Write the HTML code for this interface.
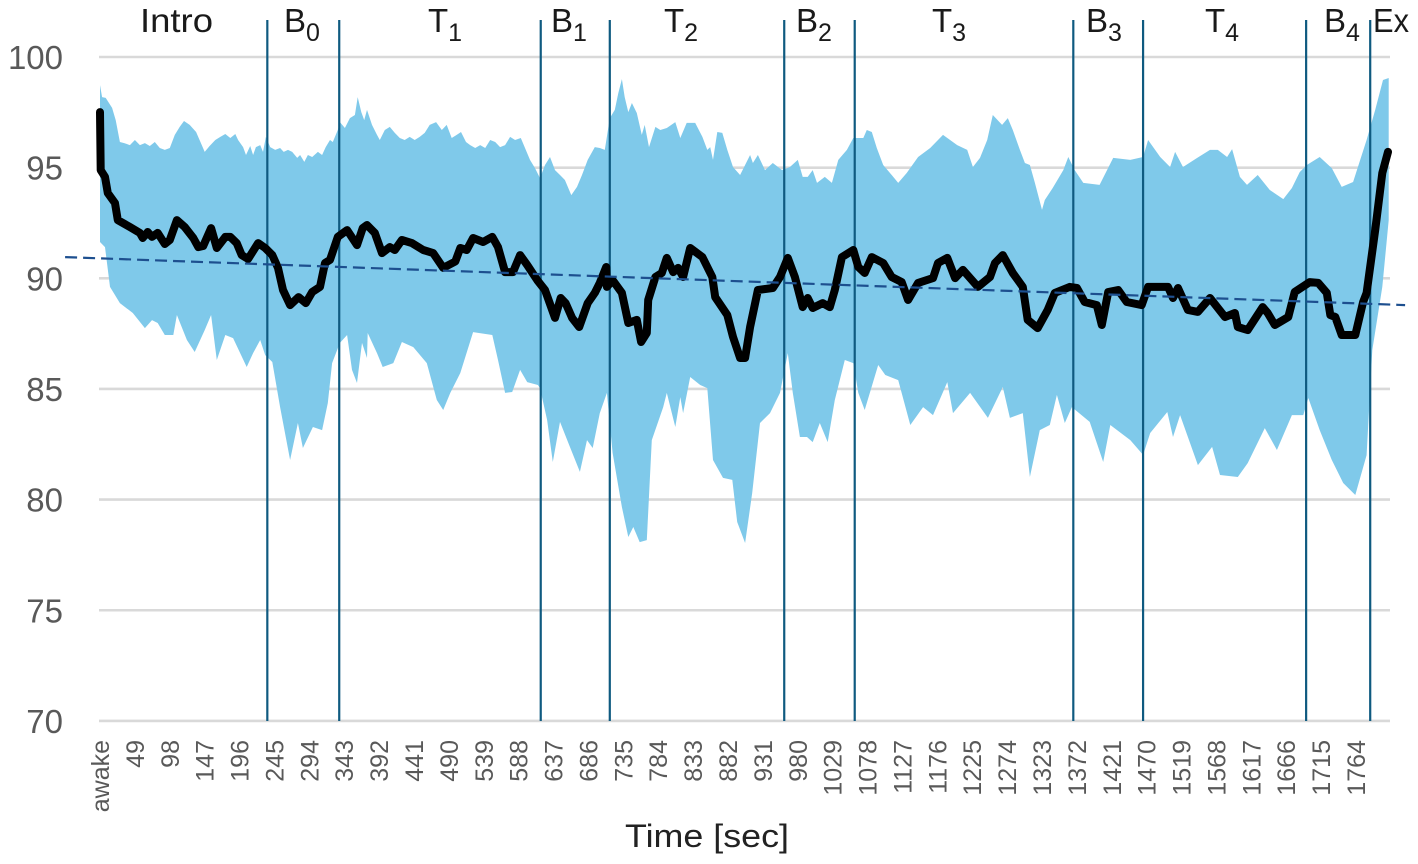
<!DOCTYPE html>
<html lang="en">
<head>
<meta charset="utf-8">
<title>Oxygen saturation over time</title>
<style>
  html, body { margin: 0; padding: 0; background: #ffffff; }
  body { width: 1418px; height: 864px; overflow: hidden; }
  svg { display: block; font-family: "Liberation Sans", sans-serif; }
  .phase { font-size: 33px; fill: #1a1a1a; }
  .phase tspan.sub { font-size: 25px; }
</style>
</head>
<body>
<svg id="chart" xmlns="http://www.w3.org/2000/svg" width="1418" height="864" viewBox="0 0 1418 864">
  <g id="grid"></g>
  <g id="yticks"></g>
  <g id="xticks"></g>
  <path id="band" fill="#7fc9ea" stroke="none"></path>
  <g id="phases"></g>
  <path id="mean" fill="none" stroke="#000000" stroke-width="8" stroke-linejoin="round" stroke-linecap="round"></path>
  <path id="trend" fill="none" stroke="#1d4f8f" stroke-width="2.2" stroke-dasharray="12 6"></path>
  <g>
    <text class="phase" x="140" y="32" textLength="73" lengthAdjust="spacingAndGlyphs">Intro</text>
    <text class="phase" x="284" y="32">B<tspan class="sub" dy="9">0</tspan></text>
    <text class="phase" x="428" y="32">T<tspan class="sub" dy="9">1</tspan></text>
    <text class="phase" x="551" y="32">B<tspan class="sub" dy="9">1</tspan></text>
    <text class="phase" x="664" y="32">T<tspan class="sub" dy="9">2</tspan></text>
    <text class="phase" x="796" y="32">B<tspan class="sub" dy="9">2</tspan></text>
    <text class="phase" x="932" y="32">T<tspan class="sub" dy="9">3</tspan></text>
    <text class="phase" x="1086" y="32">B<tspan class="sub" dy="9">3</tspan></text>
    <text class="phase" x="1205" y="32">T<tspan class="sub" dy="9">4</tspan></text>
    <text class="phase" x="1324" y="32">B<tspan class="sub" dy="9">4</tspan></text>
    <text class="phase" x="1373" y="32" textLength="36" lengthAdjust="spacingAndGlyphs">Ex</text>
  </g>
  <text x="707" y="847" text-anchor="middle" font-size="32" fill="#222222" textLength="164" lengthAdjust="spacingAndGlyphs">Time [sec]</text>
</svg>
<script>
const yTickValues = [100, 95, 90, 85, 80, 75, 70];
const xTickSeconds = [0,49,98,147,196,245,294,343,392,441,490,539,588,637,686,735,784,833,882,931,980,1029,1078,1127,1176,1225,1274,1323,1372,1421,1470,1519,1568,1617,1666,1715,1764];
const xTickLabels = ["awake","49","98","147","196","245","294","343","392","441","490","539","588","637","686","735","784","833","882","931","980","1029","1078","1127","1176","1225","1274","1323","1372","1421","1470","1519","1568","1617","1666","1715","1764"];
const phaseBoundarySeconds = [235,336,619,716,961,1060,1367,1465,1694,1784];
const trendSeconds = [-49, 1833];
const trendValues = [90.96, 88.79];

const upperSeconds = [0,3,8,17,22,28,34,42,49,56,63,70,77,84,91,98,105,112,118,126,135,143,147,154,162,169,176,183,190,194,201,205,211,215,219,225,229,233,239,246,253,258,264,270,277,281,287,292,298,306,312,317,323,327,334,337,344,351,358,362,367,371,375,382,389,393,400,407,414,421,428,435,442,449,456,463,472,480,487,494,501,507,514,520,527,534,541,548,555,562,569,576,583,591,598,604,611,618,625,632,639,646,653,662,670,677,685,695,702,709,716,723,728,733,737,742,747,754,761,765,771,780,787,796,808,815,824,836,846,853,857,861,867,874,881,889,899,913,917,924,934,945,958,969,980,987,994,1001,1007,1018,1028,1037,1049,1058,1072,1077,1084,1091,1100,1112,1121,1133,1149,1166,1184,1204,1218,1226,1236,1246,1254,1267,1275,1282,1292,1299,1306,1313,1323,1327,1338,1353,1360,1369,1381,1404,1423,1447,1465,1472,1489,1503,1510,1521,1541,1559,1570,1583,1590,1601,1611,1626,1643,1662,1674,1685,1695,1713,1730,1744,1760,1770,1779,1791,1802,1810];
const upperValues = [98.73,98.19,98.15,97.70,97.15,96.16,96.11,96.02,96.25,96.02,96.11,95.98,96.16,95.89,95.80,95.89,96.48,96.84,97.11,96.93,96.61,96.02,95.71,95.98,96.25,96.39,96.52,96.34,96.52,96.25,95.93,95.57,95.98,95.57,95.93,96.02,95.71,96.39,95.93,95.80,95.89,95.71,95.80,95.71,95.44,95.57,95.26,95.57,95.48,95.71,95.57,95.93,96.25,96.16,96.70,97.06,96.79,97.24,97.38,98.19,97.51,97.15,97.61,96.93,96.48,96.25,96.70,96.84,96.57,96.34,96.25,96.39,96.25,96.39,96.57,96.93,97.06,96.70,96.93,96.34,96.48,96.61,96.16,96.02,95.89,96.02,95.89,96.25,96.16,95.93,96.02,96.39,96.25,96.34,95.80,95.35,94.98,94.53,95.12,95.48,94.89,94.67,94.44,93.76,94.13,94.67,95.35,95.93,95.89,95.80,97.24,97.61,98.37,99.00,98.19,97.51,97.92,97.47,96.48,96.93,95.93,96.84,96.70,96.79,97.06,96.34,97.02,97.02,96.39,95.80,95.93,95.35,96.61,96.57,95.80,95.03,94.67,95.57,95.21,95.57,94.89,95.21,94.89,95.03,95.35,94.58,94.58,94.89,94.31,94.58,94.31,95.35,95.80,96.34,96.34,96.70,96.61,95.89,95.12,94.67,94.31,94.76,95.48,95.89,96.48,96.02,95.80,95.03,95.44,96.25,97.38,96.93,97.24,96.70,95.80,95.21,95.12,94.31,93.09,93.54,94.08,94.89,95.48,94.89,94.31,94.22,95.44,95.35,95.48,96.25,95.48,95.03,95.71,95.03,95.44,95.80,95.80,95.48,95.84,94.58,94.22,94.67,93.99,93.58,94.08,94.80,95.12,95.48,94.98,94.13,94.35,95.35,96.25,97.61,98.96,99.05];

const lowerSeconds = [0,7,14,28,46,63,73,81,91,103,108,122,133,147,156,164,176,187,206,215,225,232,242,253,267,278,285,299,312,320,326,337,347,354,361,368,375,376,389,397,412,424,440,459,473,482,492,506,524,551,559,569,579,590,600,615,618,628,636,646,660,674,684,692,702,712,720,733,742,749,758,768,775,791,796,808,815,819,829,843,853,861,875,888,895,906,916,927,941,955,966,973,983,993,1001,1011,1022,1032,1046,1058,1065,1074,1093,1103,1121,1138,1156,1170,1190,1198,1222,1247,1268,1278,1296,1306,1320,1334,1344,1355,1365,1390,1409,1419,1447,1465,1475,1499,1507,1517,1542,1562,1573,1598,1612,1636,1653,1674,1690,1697,1713,1730,1746,1763,1779,1787,1801,1810];
const lowerValues = [91.64,91.41,89.61,88.88,88.43,87.75,88.11,87.98,87.44,87.44,88.34,87.21,86.67,87.66,88.34,86.31,87.44,87.30,85.99,86.62,87.21,86.53,86.22,84.18,81.79,83.46,82.33,83.28,83.14,84.36,86.17,87.08,87.44,85.86,85.27,87.08,86.40,87.53,86.62,85.99,86.17,87.12,86.89,86.17,84.50,84.05,84.82,85.72,87.57,87.44,86.31,84.82,84.86,85.86,85.31,85.18,85.04,83.60,81.70,83.51,82.38,81.25,82.69,82.33,83.91,84.82,82.11,79.66,78.31,78.76,78.08,78.17,82.69,84.18,84.82,83.28,84.63,83.91,85.54,85.18,85.04,81.79,80.98,80.89,78.99,78.04,80.30,83.46,83.91,84.82,86.62,84.82,82.83,82.83,82.60,83.46,82.60,84.50,86.31,86.17,84.82,84.05,86.08,85.63,85.40,83.37,84.18,83.82,85.31,83.91,84.82,83.69,85.09,83.69,83.91,81.02,83.14,83.37,84.73,83.46,84.18,83.51,81.70,83.37,82.69,82.02,83.01,83.96,82.83,83.82,81.56,82.38,81.11,81.02,81.65,83.23,82.24,83.82,83.82,84.59,83.14,81.79,80.75,80.21,82.01,86.76,89.61,92.63];

const meanSeconds = [0,1,7,11,21,25,42,56,60,67,73,81,91,98,108,119,131,138,145,156,164,176,183,192,199,208,222,232,242,250,257,267,279,289,298,309,316,323,334,347,361,369,375,386,396,407,414,424,438,454,468,482,499,506,515,524,538,551,559,569,580,590,600,614,625,639,647,654,663,673,685,695,702,711,712,720,733,742,754,760,768,770,780,789,796,805,812,819,829,846,860,864,881,889,899,906,913,924,945,955,966,976,987,994,1001,1015,1025,1032,1042,1058,1065,1074,1084,1100,1112,1126,1135,1149,1170,1177,1190,1201,1212,1233,1250,1257,1268,1282,1296,1303,1317,1331,1341,1362,1372,1383,1400,1407,1416,1430,1442,1463,1472,1500,1507,1514,1528,1542,1559,1580,1594,1598,1612,1633,1640,1650,1669,1678,1699,1711,1723,1728,1735,1744,1763,1774,1779,1791,1801,1809];
const meanValues = [97.51,94.89,94.58,93.85,93.40,92.63,92.32,92.05,91.82,92.09,91.87,92.05,91.55,91.73,92.63,92.32,91.82,91.41,91.46,92.27,91.37,91.87,91.87,91.59,91.05,90.87,91.59,91.37,91.05,90.47,89.47,88.79,89.15,88.88,89.38,89.61,90.69,90.83,91.87,92.18,91.50,92.27,92.41,92.05,91.14,91.41,91.28,91.73,91.59,91.28,91.14,90.47,90.76,91.37,91.28,91.82,91.64,91.87,91.41,90.28,90.28,91.05,90.60,89.92,89.47,88.21,89.11,88.88,88.21,87.80,88.88,89.34,89.79,90.51,89.61,89.92,89.34,87.98,88.12,87.12,87.53,89.02,90.06,90.24,90.92,90.28,90.47,90.06,91.37,90.96,90.06,89.15,88.34,87.35,86.40,86.40,87.80,89.47,89.56,90.06,90.92,90.06,88.70,89.11,88.66,88.88,88.70,89.47,90.96,91.28,90.51,90.24,90.96,90.69,90.06,89.83,89.02,89.79,90.01,90.69,90.92,90.01,90.38,89.61,90.06,90.69,91.05,90.24,89.61,88.12,87.75,88.57,89.34,89.61,89.56,88.93,88.79,87.89,89.38,89.47,88.93,88.79,89.61,89.61,89.11,89.56,88.57,88.48,89.11,88.25,88.43,87.80,87.66,88.70,88.43,87.89,88.25,89.38,89.83,89.79,89.34,88.34,88.25,87.44,87.44,88.93,89.34,92.18,94.76,95.71];

function xScale(sec) { return 100 + sec * 0.712; }
function yScale(val) { return 57 + (100 - val) * 22.13; }

const NS = 'http://www.w3.org/2000/svg';
function make(tag, parentId) {
  const el = document.createElementNS(NS, tag);
  document.getElementById(parentId).appendChild(el);
  return el;
}
function linePath(secs, vals) {
  return secs.map(function (s, i) {
    return (i ? 'L' : 'M') + xScale(s).toFixed(1) + ' ' + yScale(vals[i]).toFixed(1);
  }).join(' ');
}

yTickValues.forEach(function (v) {
  const line = make('line', 'grid');
  
  
  line.setAttribute('x1', 99);
  line.setAttribute('x2', 1390);
  line.setAttribute('y1', yScale(v));
  line.setAttribute('y2', yScale(v));
  line.setAttribute('stroke', '#d9d9d9');
  line.setAttribute('stroke-width', 2.6);

  const label = make('text', 'yticks');
  
  
  label.setAttribute('x', 63);
  label.setAttribute('y', yScale(v) + 12);
  label.setAttribute('text-anchor', 'end');
  label.setAttribute('font-size', 33);
  label.setAttribute('fill', '#595959');
  label.textContent = String(v);
});

xTickSeconds.forEach(function (s, i) {
  const label = make('text', 'xticks');
  
  
  const px = xScale(s) + 9;
  label.setAttribute('transform', 'translate(' + px + ' 740) rotate(-90)');
  label.setAttribute('text-anchor', 'end');
  label.setAttribute('font-size', 25);
  label.setAttribute('fill', '#595959');
  label.textContent = xTickLabels[i];
});

const upperPath = linePath(upperSeconds, upperValues);
const lowerPath = linePath(lowerSeconds.slice().reverse(), lowerValues.slice().reverse()).replace('M', 'L');
document.getElementById('band').setAttribute('d', upperPath + ' ' + lowerPath + ' Z');

phaseBoundarySeconds.forEach(function (s) {
  const line = make('line', 'phases');
  
  
  line.setAttribute('x1', xScale(s));
  line.setAttribute('x2', xScale(s));
  line.setAttribute('y1', 20);
  line.setAttribute('y2', 721);
  line.setAttribute('stroke', '#0f5a80');
  line.setAttribute('stroke-width', 2.2);
});

document.getElementById('mean').setAttribute('d', linePath(meanSeconds, meanValues));
document.getElementById('trend').setAttribute('d', linePath(trendSeconds, trendValues));
</script>
</body>
</html>
